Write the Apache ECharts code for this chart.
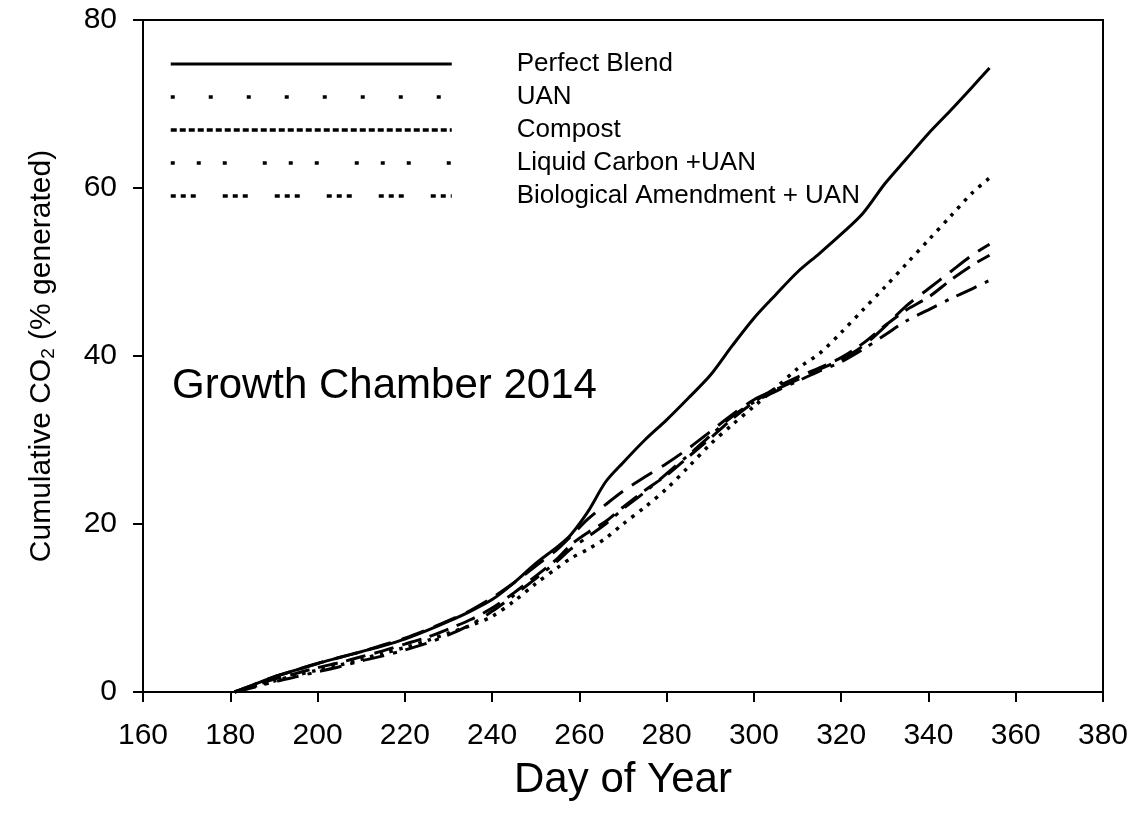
<!DOCTYPE html>
<html>
<head>
<meta charset="utf-8">
<script src="https://cdn.jsdelivr.net/npm/echarts@6/dist/echarts.min.js"></script>
<style>html,body{margin:0;padding:0;background:#fff}#c{width:1138px;height:827px}</style>
</head>
<body>
<div id="c"></div>
<script>
var days = [181,185,190,195,200,205,210,215,220,225,230,235,240,245,250,255,258,262,266,270,275,280,285,290,295,300,305,310,315,320,325,330,335,340,345,350,354];
var perfectBlend = [0,0.8,1.8,2.6,3.4,4.1,4.8,5.5,6.3,7.3,8.4,9.6,11.0,13.0,15.3,17.3,18.7,21.5,25.0,27.3,30.0,32.4,35.0,37.7,41.2,44.5,47.3,50.0,52.2,54.5,57.0,60.5,63.5,66.5,69.2,72.0,74.3];
var uan = [0,0.5,1.2,1.8,2.4,3.0,3.7,4.3,5.0,5.8,6.8,8.0,9.6,11.5,13.5,15.6,17.0,18.5,20.0,21.8,23.8,26.0,28.2,30.5,32.8,34.5,35.8,37.0,38.2,39.3,40.8,42.5,44.2,45.5,46.8,48.0,49.0];
var compost = [0,0.8,1.8,2.6,3.4,4.1,4.8,5.6,6.4,7.4,8.5,9.7,11.2,13.0,15.0,17.0,18.5,20.6,22.3,23.9,25.6,27.2,29.0,31.0,33.0,34.8,36.0,37.2,38.4,39.6,41.2,43.5,46.0,48.0,50.0,52.0,53.3];
var liquidCarbon = [0,0.6,1.3,2.0,2.6,3.2,3.9,4.6,5.3,6.1,7.0,7.9,9.0,10.8,12.9,14.8,15.9,17.0,18.3,20.0,22.0,24.2,26.8,29.5,31.8,34.0,36.2,38.5,40.3,42.8,45.5,48.2,51.0,53.8,56.6,59.4,61.2];
var bioAmend = [0,0.7,1.5,2.2,2.9,3.5,4.2,4.9,5.7,6.5,7.5,8.6,10.0,11.8,13.8,15.9,17.5,19.0,20.3,22.0,24.0,25.8,28.0,30.2,32.5,34.5,36.2,37.5,38.6,39.8,41.5,43.6,45.5,47.0,49.0,50.8,52.0];
var seriesNames = ['Perfect Blend','UAN','Compost','Liquid Carbon +UAN','Biological Amendment + UAN'];
var xTicks = {min:160, max:380, interval:20};
var yTicks = {min:0, max:80, interval:20};

function pairs(vals){ return days.map(function(d,i){ return [d, vals[i]]; }); }

var FONT = '"Liberation Sans", Arial, sans-serif';
var chart = echarts.init(document.getElementById('c'));
var seriesData = [perfectBlend, uan, compost, liquidCarbon, bioAmend];
var plotStyles = [
  {type:'solid', width:3},
  {type:[22,9,4,9], width:3},
  {type:[24,11], width:3},
  {type:[3.5,6.5], width:3.5},
  {type:[20,9], width:3}
];
var legendStyles = [
  {type:'solid', width:3},
  {type:[4,34], width:3.5},
  {type:[6,3], width:3.5},
  {type:[4,22,4,22,4,36], width:3.5},
  {type:[5,5,5,5,5,27], width:3.5}
];
var series = seriesNames.map(function(n,i){
  return {
    name:n, type:'line', data:pairs(seriesData[i]), symbol:'none', smooth:0.3,
    lineStyle:{color:'#000', width:plotStyles[i].width, type:plotStyles[i].type, cap:'butt'},
    itemStyle:{color:'#000'}
  };
});
chart.setOption({
  animation:false,
  backgroundColor:'#fff',
  textStyle:{fontFamily:FONT},
  grid:{left:143, top:20, right:35, bottom:135, show:true, borderColor:'#000', borderWidth:2},
  legend:{
    orient:'vertical', left:169, top:51, padding:0, itemWidth:281, itemHeight:26, itemGap:7,
    textStyle:{fontSize:26, color:'#000', fontFamily:FONT, padding:[0,0,0,60], lineHeight:26},
    data: seriesNames.map(function(n,i){
      return {
        name:n,
        itemStyle:{color:'rgba(0,0,0,0)', borderWidth:0, opacity:0},
        lineStyle:{color:'#000', width:legendStyles[i].width, type:legendStyles[i].type, cap:'butt'}
      };
    })
  },
  xAxis:{
    type:'value', min:xTicks.min, max:xTicks.max, interval:xTicks.interval,
    name:'Day of Year', nameLocation:'middle', nameGap:67,
    nameTextStyle:{fontSize:42, color:'#000', fontFamily:FONT},
    axisLine:{show:true, lineStyle:{color:'#000', width:2}},
    axisTick:{show:true, inside:false, length:10, lineStyle:{color:'#000', width:2}},
    axisLabel:{fontSize:30, color:'#000', margin:29, fontFamily:FONT},
    splitLine:{show:false}
  },
  yAxis:{
    type:'value', min:yTicks.min, max:yTicks.max, interval:yTicks.interval,
    name:'Cumulative CO{sub|2} (% generated)', nameLocation:'middle', nameGap:85, nameRotate:90,
    nameTextStyle:{fontSize:30, color:'#000', fontFamily:FONT, rich:{sub:{fontSize:19, color:'#000', fontFamily:FONT, padding:[14,0,0,0]}}},
    axisLine:{show:true, lineStyle:{color:'#000', width:2}},
    axisTick:{show:true, inside:false, length:10, lineStyle:{color:'#000', width:2}},
    axisLabel:{fontSize:30, color:'#000', margin:26, fontFamily:FONT},
    splitLine:{show:false}
  },
  graphic:[{type:'text', left:172, top:365, style:{text:'Growth Chamber 2014', fontSize:42, fill:'#000', fontFamily:FONT}}],
  series:series
});
</script>
</body>
</html>
